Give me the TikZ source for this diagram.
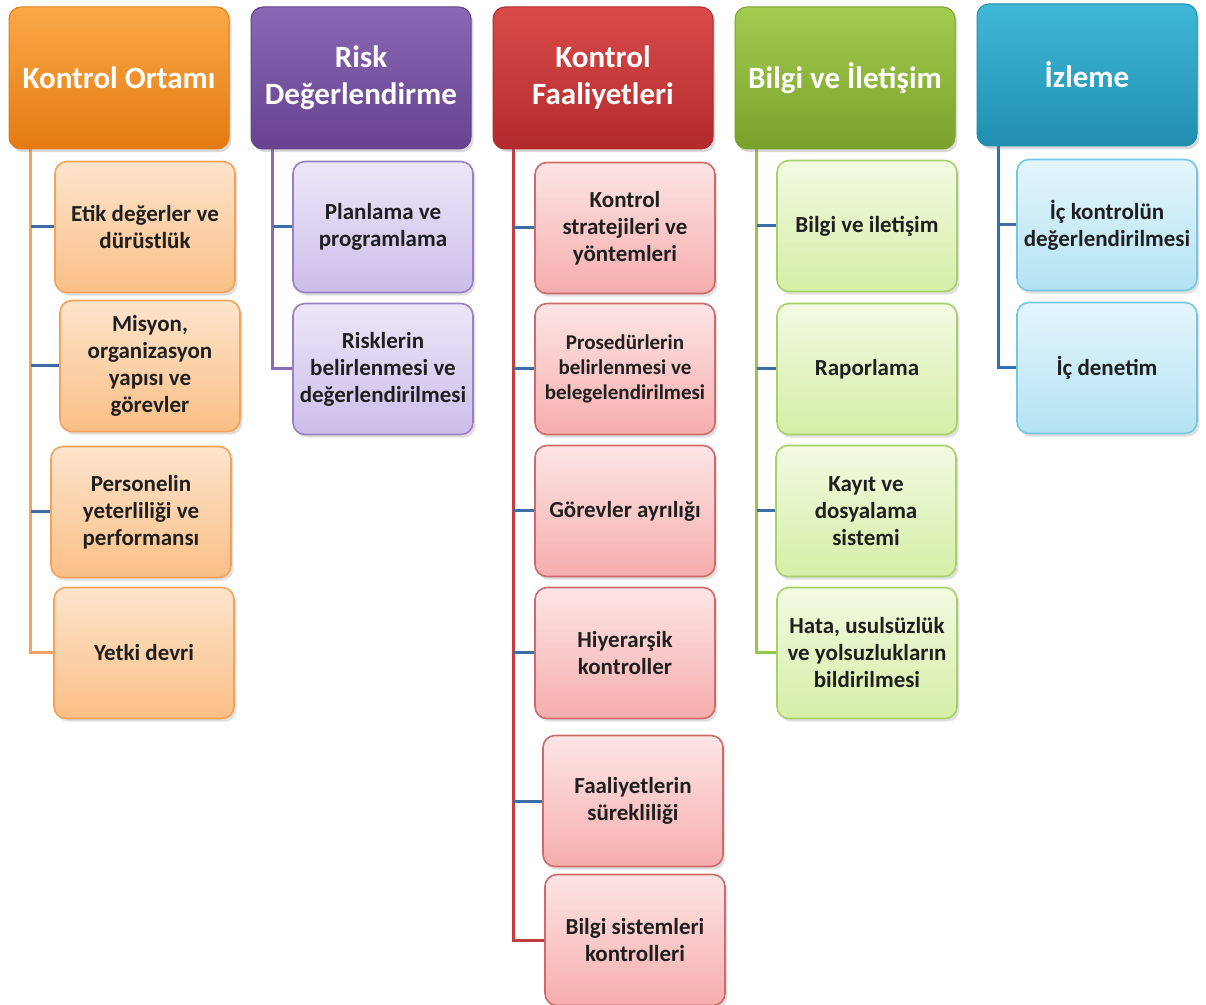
\documentclass[tikz,border=0pt]{standalone}
\usepackage{fontspec}
\setmainfont{Carlito}
\usetikzlibrary{positioning, calc, shadows, backgrounds}

\definecolor{ortamTop}{HTML}{FAA847}
\definecolor{ortamBot}{HTML}{E47B12}
\definecolor{ortamLight}{HTML}{FDE4CC}
\definecolor{ortamMid}{HTML}{FABF86}
\definecolor{ortamEdge}{HTML}{F3A259}
\definecolor{riskTop}{HTML}{8A68B3}
\definecolor{riskBot}{HTML}{66428F}
\definecolor{riskLight}{HTML}{EDE6F8}
\definecolor{riskMid}{HTML}{CDBDEA}
\definecolor{riskEdge}{HTML}{9880C2}
\definecolor{faalTop}{HTML}{D94B4B}
\definecolor{faalBot}{HTML}{B32A2C}
\definecolor{faalLight}{HTML}{FDE5E5}
\definecolor{faalMid}{HTML}{F6ADAD}
\definecolor{faalEdge}{HTML}{CF6A6A}
\definecolor{bilgiTop}{HTML}{A3CB4E}
\definecolor{bilgiBot}{HTML}{7AA22B}
\definecolor{bilgiLight}{HTML}{F3FAE2}
\definecolor{bilgiMid}{HTML}{D5EEA6}
\definecolor{bilgiEdge}{HTML}{A6D068}
\definecolor{izTop}{HTML}{41B8D8}
\definecolor{izBot}{HTML}{1F8EAF}
\definecolor{izLight}{HTML}{E4F6FC}
\definecolor{izMid}{HTML}{B3E2F2}
\definecolor{izEdge}{HTML}{74C6E2}
\definecolor{stubBlue}{HTML}{3D6DA6}
\definecolor{spineOrange}{HTML}{F4A35E}
\definecolor{spinePurple}{HTML}{8A6CB6}
\definecolor{spineRed}{HTML}{C23C3E}
\definecolor{spineGreen}{HTML}{92C84C}
\definecolor{spineBlue}{HTML}{2F6FB8}

\begin{document}
\begin{tikzpicture}[
  x=0.5pt, y=-0.5pt,
  head/.style = {rectangle, rounded corners=6pt, minimum width=110pt, minimum height=71pt,
    align=center, text=white, line width=0.5pt,
    font=\fontsize{15.5}{18.5}\selectfont\bfseries,
    drop shadow={opacity=0.3, shadow xshift=1.2pt, shadow yshift=-1.6pt}},
  item/.style = {rectangle, rounded corners=6pt, minimum width=90pt, minimum height=65.5pt,
    inner xsep=2pt, align=center, text=black!88, line width=0.8pt,
    font=\fontsize{11.5}{13.5}\selectfont\bfseries,
    drop shadow={opacity=0.25, shadow xshift=1.2pt, shadow yshift=-1.6pt}},
  ortam/.style = {item, top color=ortamLight, bottom color=ortamMid, draw=ortamEdge},
  risk/.style = {item, top color=riskLight, bottom color=riskMid, draw=riskEdge},
  faal/.style = {item, top color=faalLight, bottom color=faalMid, draw=faalEdge},
  bilgi/.style = {item, top color=bilgiLight, bottom color=bilgiMid, draw=bilgiEdge},
  izle/.style = {item, top color=izLight, bottom color=izMid, draw=izEdge},
  spine/.style = {line width=1.5pt},
  stub/.style = {draw=stubBlue, line width=1.5pt}
]
  \useasboundingbox (0,0) rectangle (1206,1005);

  % Place the column heads
  \node[head, top color=ortamTop, bottom color=ortamBot, draw=ortamBot] (head_0) at (119,78) {Kontrol Ortamı};
  \node[head, top color=riskTop, bottom color=riskBot, draw=riskBot] (head_1) [right=10.5pt of head_0] {Risk\\Değerlendirme};
  \node[head, top color=faalTop, bottom color=faalBot, draw=faalBot] (head_2) [right=10.5pt of head_1] {Kontrol\\Faaliyetleri};
  \node[head, top color=bilgiTop, bottom color=bilgiBot, draw=bilgiBot] (head_3) [right=10.5pt of head_2] {Bilgi ve İletişim};
  \node[head, top color=izTop, bottom color=izBot, draw=izBot] (head_4) [right=10.5pt of head_3, yshift=1.5pt] {İzleme};

  % Place the items of each column
  \node[ortam] (item_0_1) at (145,227) {Etik değerler ve\\dürüstlük};
  \node[ortam] (item_0_2) at (150,366) {Misyon,\\organizasyon\\yapısı ve\\görevler};
  \node[ortam] (item_0_3) at (141,512) {Personelin\\yeterliliği ve\\performansı};
  \node[ortam] (item_0_4) at (144,653) {Yetki devri};

  \node[risk] (item_1_1) at (383,227) {Planlama ve\\programlama};
  \node[risk] (item_1_2) at (383,369) {Risklerin\\belirlenmesi ve\\değerlendirilmesi};

  \node[faal] (item_2_1) at (625,228) {Kontrol\\stratejileri ve\\yöntemleri};
  \node[faal, font=\fontsize{10.5}{12.3}\selectfont\bfseries] (item_2_2) at (625,369) {Prosedürlerin\\belirlenmesi ve\\belegelendirilmesi};
  \node[faal] (item_2_3) at (625,511) {Görevler ayrılığı};
  \node[faal] (item_2_4) at (625,653) {Hiyerarşik\\kontroller};
  \node[faal] (item_2_5) at (633,801) {Faaliyetlerin\\sürekliliği};
  \node[faal] (item_2_6) at (635,940) {Bilgi sistemleri\\kontrolleri};

  \node[bilgi] (item_3_1) at (867,226) {Bilgi ve iletişim};
  \node[bilgi] (item_3_2) at (867,369) {Raporlama};
  \node[bilgi] (item_3_3) at (866,511) {Kayıt ve\\dosyalama\\sistemi};
  \node[bilgi] (item_3_4) at (867,653) {Hata, usulsüzlük\\ve yolsuzlukların\\bildirilmesi};

  \node[izle] (item_4_1) at (1107,225) {İç kontrolün\\değerlendirilmesi};
  \node[izle] (item_4_2) at (1107,368) {İç denetim};

  % Draw the connectors
  \begin{scope}[on background layer]
    \coordinate (spine_0) at ($(head_0.south west)+(22,0)$);
    \coordinate (spine_1) at ($(head_1.south west)+(22,0)$);
    \coordinate (spine_2) at ($(head_2.south west)+(21,0)$);
    \coordinate (spine_3) at ($(head_3.south west)+(22,0)$);
    \coordinate (spine_4) at ($(head_4.south west)+(22,0)$);

    \path[draw=spineOrange, spine] (spine_0) |- (item_0_4.west);
    \path[draw=spinePurple, spine] (spine_1) |- (item_1_2.west);
    \path[draw=spineRed, spine] (spine_2) |- (item_2_6.west);
    \path[draw=spineGreen, spine] (spine_3) |- (item_3_4.west);
    \path[draw=spineBlue, spine] (spine_4) |- (item_4_2.west);

    \path[stub]
      (spine_0 |- item_0_1.west) -- (item_0_1.west)
      (spine_0 |- item_0_2.west) -- (item_0_2.west)
      (spine_0 |- item_0_3.west) -- (item_0_3.west)
      (spine_1 |- item_1_1.west) -- (item_1_1.west)
      (spine_2 |- item_2_1.west) -- (item_2_1.west)
      (spine_2 |- item_2_2.west) -- (item_2_2.west)
      (spine_2 |- item_2_3.west) -- (item_2_3.west)
      (spine_2 |- item_2_4.west) -- (item_2_4.west)
      (spine_2 |- item_2_5.west) -- (item_2_5.west)
      (spine_3 |- item_3_1.west) -- (item_3_1.west)
      (spine_3 |- item_3_2.west) -- (item_3_2.west)
      (spine_3 |- item_3_3.west) -- (item_3_3.west)
      (spine_4 |- item_4_1.west) -- (item_4_1.west)
    ;
  \end{scope}
\end{tikzpicture}
\end{document}
